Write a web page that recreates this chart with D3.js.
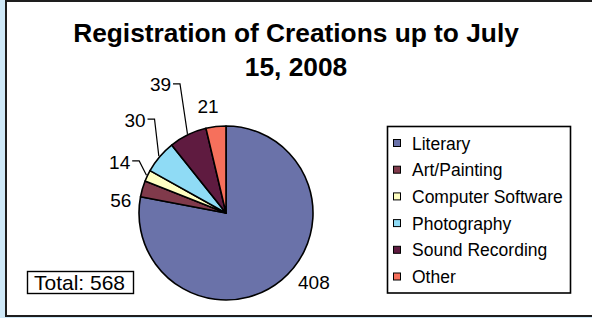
<!DOCTYPE html>
<html>
<head>
<meta charset="utf-8">
<script src="https://cdn.jsdelivr.net/npm/d3@7"></script>
<style>
  html, body { margin: 0; padding: 0; background: #cfe9f8; }
  svg { display: block; }
  text { font-family: "Liberation Sans", Arial, sans-serif; }
</style>
</head>
<body>
<svg id="chart" width="592" height="318"></svg>
<script>
// ---- data ----
const titleLines = ["Registration of Creations up to July", "15, 2008"];
const categories = ["Literary", "Art/Painting", "Computer Software", "Photography", "Sound Recording", "Other"];
// slice sizes as drawn in the picture
const sliceValues = [443, 17, 12, 35, 40, 21];
// numbers printed next to the slices
const labelValues = [408, 56, 14, 30, 39, 21];
const colors = ["#6a72a9", "#803a4b", "#ffffc2", "#8fdbf5", "#5f1b40", "#f6705c"];
const totalText = "Total: 568";

// ---- layout ----
const svg = d3.select("#chart");

// white chart area with dark frame
svg.append("rect").attr("x", 6).attr("y", 1).attr("width", 600).attr("height", 315)
  .attr("fill", "#ffffff").attr("stroke", "#1e1e1e").attr("stroke-width", 2);

// title
const title = svg.append("text").attr("text-anchor", "middle")
  .attr("font-size", 26.3).attr("font-weight", "bold").attr("fill", "#000");
titleLines.forEach((t, i) => {
  title.append("tspan").attr("x", 296).attr("y", 42 + i * 34).text(t);
});

// pie
const cx = 226, cy = 213, R = 87;
const pie = d3.pie().sort(null).value(d => d);
const arcs = pie(sliceValues);
const arcGen = d3.arc().innerRadius(0).outerRadius(R);
const g = svg.append("g").attr("transform", `translate(${cx},${cy})`);
g.selectAll("path").data(arcs).join("path")
  .attr("d", arcGen)
  .attr("fill", (d, i) => colors[i])
  .attr("stroke", "#000").attr("stroke-width", 1.6).attr("stroke-linejoin", "round");

// data labels
const deg = Math.PI / 180;
const labelLayout = [
  { da: -12.1, r: 112, leader: false },
  { da: -9.2, r: 106, leader: false },
  { da: 0.3, r: 118, leader: true },
  { da: 5.3, r: 130, leader: true },
  { da: -1.1, r: 144, leader: true },
  { da: -2.9, r: 108, leader: false }
];
const polar = (a, r) => [r * Math.sin(a), -r * Math.cos(a)];
arcs.forEach((a, i) => {
  const mid = (a.startAngle + a.endAngle) / 2;
  const L = labelLayout[i];
  const [lx, ly] = polar(mid + L.da * deg, L.r);
  const t = g.append("text").attr("x", lx).attr("y", ly).attr("dy", "0.35em")
    .attr("text-anchor", "middle").attr("font-size", 19).attr("fill", "#000")
    .text(labelValues[i]);
  if (L.leader) {
    const w = t.node().getComputedTextLength();
    const right = lx + w / 2;
    const [ax, ay] = polar(mid, R + 1);
    g.append("path")
      .attr("d", d3.line()([[ax, ay], [right + 9, ly - 1], [right + 2, ly - 1]]))
      .attr("fill", "none").attr("stroke", "#000").attr("stroke-width", 1.2);
  }
});

// legend
const lg = svg.append("g");
lg.append("rect").attr("x", 387.5).attr("y", 126.5).attr("width", 183).attr("height", 166.5)
  .attr("fill", "#fff").attr("stroke", "#000").attr("stroke-width", 1.6);
const ly0 = 143.5, lstep = 26.7;
categories.forEach((c, i) => {
  const y = ly0 + i * lstep;
  lg.append("rect").attr("x", 393.5).attr("y", y - 4).attr("width", 7).attr("height", 7)
    .attr("fill", colors[i]).attr("stroke", "#000").attr("stroke-width", 1);
  lg.append("text").attr("x", 412).attr("y", y).attr("dy", "0.35em")
    .attr("font-size", 17.5).attr("fill", "#000").text(c);
});

// total box
svg.append("rect").attr("x", 27.5).attr("y", 271.5).attr("width", 106).attr("height", 22)
  .attr("fill", "#fff").attr("stroke", "#000").attr("stroke-width", 1.4);
svg.append("text").attr("x", 79.5).attr("y", 282.5).attr("dy", "0.35em")
  .attr("text-anchor", "middle").attr("font-size", 21).attr("fill", "#000")
  .text(totalText);
</script>
</body>
</html>
